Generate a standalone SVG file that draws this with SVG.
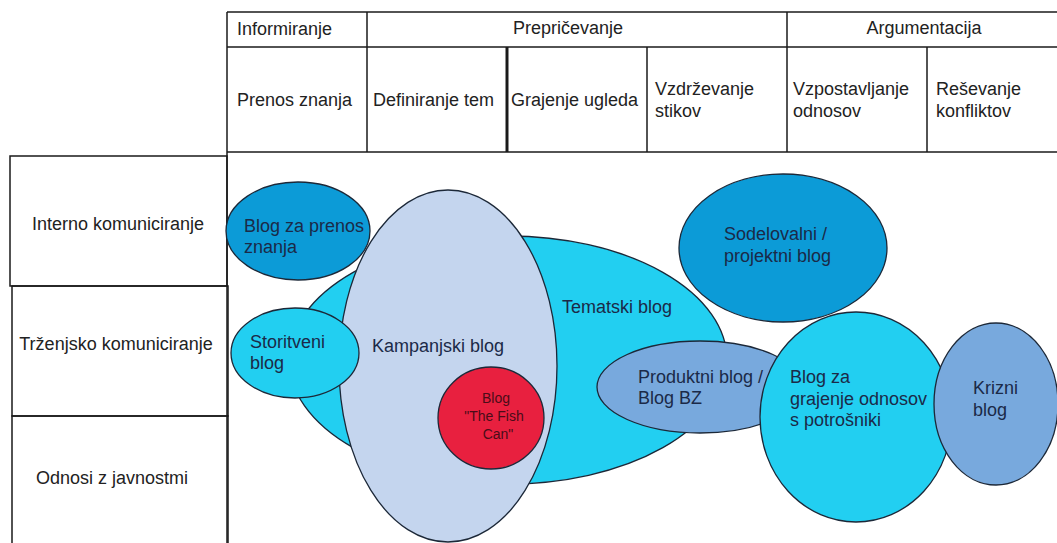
<svg xmlns="http://www.w3.org/2000/svg" width="1057" height="543" viewBox="0 0 1057 543">
  <style>
    .grid { stroke: #1a1a1a; stroke-width: 1.5; fill: none; }
    .thick { stroke: #1a1a1a; stroke-width: 3; fill: none; }
    .hdr { font-family: "Liberation Sans", Arial, sans-serif; font-size: 18px; fill: #222; }
    .blob { stroke: #1c2838; stroke-width: 1.3; }
    .cyan { fill: #22cff1; }
    .deep { fill: #0c9bd7; }
    .pale { fill: #c4d5ee; }
    .steel { fill: #78a9dd; }
    .red { fill: #e8203f; }
    .lbl { font-family: "Liberation Sans", Arial, sans-serif; font-size: 18px; fill: #1b2a48; }
    .small { font-family: "Liberation Sans", Arial, sans-serif; font-size: 14px; fill: #4a0c18; text-anchor: middle; }
  </style>
  <rect x="0" y="0" width="1057" height="543" fill="#ffffff"/>

  <!-- header table -->
  <g id="header">
    <line class="grid" x1="227" y1="12" x2="1057" y2="12"/>
    <line class="grid" x1="227" y1="12" x2="227" y2="543"/>
    <line class="grid" x1="227" y1="47" x2="367" y2="47"/>
    <line class="grid" x1="367" y1="47" x2="787" y2="47" stroke-width="2.2"/>
    <line class="grid" x1="787" y1="47" x2="1057" y2="47"/>
    <line class="grid" x1="227" y1="152" x2="1057" y2="152"/>
    <line class="grid" x1="367" y1="12" x2="367" y2="152"/>
    <line class="thick" x1="507" y1="47" x2="507" y2="152"/>
    <line class="grid" x1="647" y1="47" x2="647" y2="152"/>
    <line class="grid" x1="787" y1="12" x2="787" y2="152"/>
    <line class="grid" x1="927" y1="47" x2="927" y2="152"/>

    <text class="hdr" x="237" y="35">Informiranje</text>
    <text class="hdr" x="568" y="34" text-anchor="middle">Prepričevanje</text>
    <text class="hdr" x="924" y="34" text-anchor="middle">Argumentacija</text>

    <text class="hdr" x="237" y="106">Prenos znanja</text>
    <text class="hdr" x="373" y="106">Definiranje tem</text>
    <text class="hdr" x="511" y="106">Grajenje ugleda</text>
    <text class="hdr" x="655" y="95">Vzdrževanje</text>
    <text class="hdr" x="655" y="117">stikov</text>
    <text class="hdr" x="793" y="95">Vzpostavljanje</text>
    <text class="hdr" x="793" y="117">odnosov</text>
    <text class="hdr" x="936" y="95">Reševanje</text>
    <text class="hdr" x="936" y="117">konfliktov</text>
  </g>

  <!-- row headings -->
  <g id="row-interno">
    <rect class="grid" x="10" y="156" width="217" height="130"/>
    <text class="hdr" x="118" y="230" text-anchor="middle">Interno komuniciranje</text>
  </g>
  <g id="row-trzenjsko">
    <rect class="grid" x="12" y="286" width="216" height="130"/>
    <text class="hdr" x="116" y="350" text-anchor="middle">Trženjsko komuniciranje</text>
  </g>
  <g id="row-odnosi">
    <rect class="grid" x="12" y="416" width="216" height="140"/>
    <text class="hdr" x="112" y="484" text-anchor="middle">Odnosi z javnostmi</text>
  </g>

  <!-- blog types -->
  <g id="tematski">
    <ellipse class="blob cyan" cx="508" cy="360" rx="219" ry="124"/>
    <text class="lbl" x="562" y="313">Tematski blog</text>
  </g>
  <g id="kampanjski">
    <ellipse class="blob pale" cx="448" cy="366" rx="109" ry="176"/>
    <text class="lbl" x="372" y="352">Kampanjski blog</text>
  </g>
  <g id="prenos">
    <ellipse class="blob deep" cx="298" cy="231" rx="72" ry="49"/>
    <text class="lbl" x="244" y="232">Blog za prenos</text>
    <text class="lbl" x="244" y="253">znanja</text>
  </g>
  <g id="storitveni">
    <ellipse class="blob cyan" cx="295" cy="353" rx="64" ry="45"/>
    <text class="lbl" x="250" y="348">Storitveni</text>
    <text class="lbl" x="250" y="369">blog</text>
  </g>
  <g id="fishcan">
    <ellipse class="blob red" cx="491" cy="418" rx="53" ry="51"/>
    <text class="small" x="496" y="403">Blog</text>
    <text class="small" x="494" y="421">"The Fish</text>
    <text class="small" x="498" y="439">Can"</text>
  </g>
  <g id="sodelovalni">
    <ellipse class="blob deep" cx="783" cy="248" rx="104" ry="74"/>
    <text class="lbl" x="724" y="240">Sodelovalni /</text>
    <text class="lbl" x="724" y="262">projektni blog</text>
  </g>
  <g id="produktni">
    <ellipse class="blob steel" cx="700" cy="387" rx="103" ry="46"/>
    <text class="lbl" x="638" y="383">Produktni blog /</text>
    <text class="lbl" x="638" y="404">Blog BZ</text>
  </g>
  <g id="grajenje">
    <ellipse class="blob cyan" cx="856" cy="417" rx="96" ry="105"/>
    <text class="lbl" x="790" y="383">Blog za</text>
    <text class="lbl" x="790" y="405">grajenje odnosov</text>
    <text class="lbl" x="790" y="426">s potrošniki</text>
  </g>
  <g id="krizni">
    <ellipse class="blob steel" cx="996" cy="404" rx="62" ry="81"/>
    <text class="lbl" x="973" y="394">Krizni</text>
    <text class="lbl" x="973" y="416">blog</text>
  </g>

  <!-- no connectors in this chart -->
  <g id="connectors"/>
</svg>
